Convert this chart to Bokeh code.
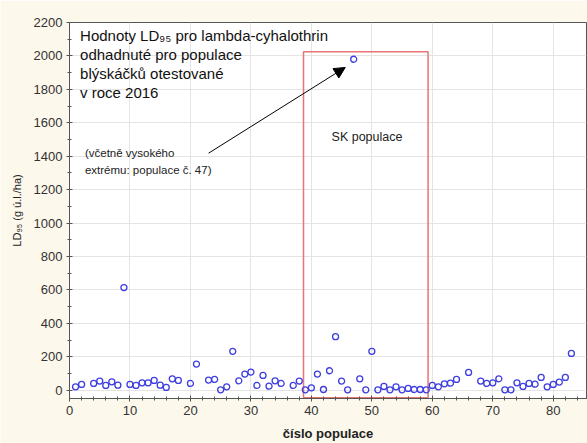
from bokeh.plotting import figure
from bokeh.models import Label, Arrow, NormalHead, Range1d, FixedTicker
from bokeh.embed import file_html
from bokeh.resources import INLINE

populace = [1, 2, 4, 5, 6, 7, 8, 9, 10, 11, 12, 13, 14, 15, 16, 17, 18, 20, 21,
            23, 24, 25, 26, 27, 28, 29, 30, 31, 32, 33, 34, 35, 37, 38, 39, 40,
            41, 42, 43, 44, 45, 46, 47, 48, 49, 50, 51, 52, 53, 54, 55, 56, 57,
            58, 59, 60, 61, 62, 63, 64, 66, 68, 69, 70, 71, 72, 73, 74, 75, 76,
            77, 78, 79, 80, 81, 82, 83]
ld95 = [20, 34, 40, 54, 28, 50, 30, 614, 34, 28, 44, 44, 58, 30, 16, 68, 58, 40, 156,
        60, 64, 2, 20, 232, 56, 96, 108, 28, 88, 24, 56, 40, 28, 54, 2, 14,
        96, 4, 116, 320, 54, 2, 1980, 68, 2, 232, 2, 22, 2, 20, 2, 10, 4,
        4, 2, 28, 20, 38, 42, 64, 106, 54, 40, 44, 68, 2, 2, 44, 22, 40,
        36, 76, 20, 34, 48, 76, 220]

x_ticks = [0, 10, 20, 30, 40, 50, 60, 70, 80]
y_ticks = [0, 200, 400, 600, 800, 1000, 1200, 1400, 1600, 1800, 2000, 2200]

p = figure(width=587, height=443, output_backend="svg", toolbar_location=None,
           x_range=Range1d(0, 85.5), y_range=Range1d(-50, 2200),
           min_border_left=69, min_border_top=22, min_border_right=1, min_border_bottom=43)
p.background_fill_color = "white"
p.border_fill_color = "#fdf8ec"
p.outline_line_color = "#555555"
p.outline_line_width = 1

p.xaxis.ticker = FixedTicker(ticks=x_ticks, minor_ticks=list(range(0, 86, 2)))
p.yaxis.ticker = FixedTicker(ticks=y_ticks, minor_ticks=list(range(0, 2201, 100)))
for ax in (p.xaxis, p.yaxis):
    ax.axis_line_color = "#555555"
    ax.major_tick_line_color = "#555555"
    ax.minor_tick_line_color = "#555555"
    ax.major_tick_in = 3
    ax.major_tick_out = 3
    ax.minor_tick_in = 2
    ax.minor_tick_out = 2
    ax.major_label_text_font = "Liberation Sans"
    ax.major_label_text_font_size = "13px"
    ax.major_label_text_color = "#333333"
    ax.axis_label_text_font = "Liberation Sans"
    ax.axis_label_text_font_style = "normal"
    ax.axis_label_text_color = "#222222"
p.xaxis.major_label_standoff = 4
p.yaxis.major_label_standoff = 4
p.xaxis.axis_label = "číslo populace"
p.xaxis.axis_label_text_font_style = "bold"
p.xaxis.axis_label_text_font_size = "13px"
p.xaxis.axis_label_standoff = 8
p.yaxis.axis_label = "LD₉₅ (g ú.l./ha)"
p.yaxis.axis_label_text_font_size = "11px"
p.yaxis.axis_label_standoff = 8

p.xgrid.grid_line_color = "#e4e4e4"
p.ygrid.grid_line_color = "#e4e4e4"

# SK box
p.quad(left=38.7, right=59.3, bottom=-45, top=2025, fill_color=None,
       line_color="#e87474", line_width=1.5)

p.scatter(populace, ld95, size=6, marker="circle", fill_color=None,
          line_color="#3d3de0", line_width=1.3)

p.add_layout(Arrow(end=NormalHead(size=11, fill_color="black", line_color="black"),
                   x_start=23.0, y_start=1418, x_end=45.6, y_end=1931,
                   line_color="black", line_width=1))

font = "Liberation Sans"
title_lines = ["Hodnoty LD₉₅ pro lambda-cyhalothrin", "odhadnuté pro populace",
               "blýskáčků otestované", "v roce 2016"]
for i, t in enumerate(title_lines):
    p.add_layout(Label(x=1.75, y=2122 - i * 113, text=t, text_font=font,
                       text_font_size="15px", text_color="#111111",
                       text_baseline="middle", text_align="left"))

for i, t in enumerate(["(včetně vysokého", "extrému: populace č. 47)"]):
    p.add_layout(Label(x=2.55, y=1420 - i * 100, text=t, text_font=font,
                       text_font_size="11.5px", text_color="#222222",
                       text_baseline="middle", text_align="left"))

p.add_layout(Label(x=49.2, y=1515, text="SK populace", text_font=font,
                   text_font_size="12.5px", text_color="#222222",
                   text_baseline="middle", text_align="center"))

open("out.html", "w").write(file_html(p, INLINE))
